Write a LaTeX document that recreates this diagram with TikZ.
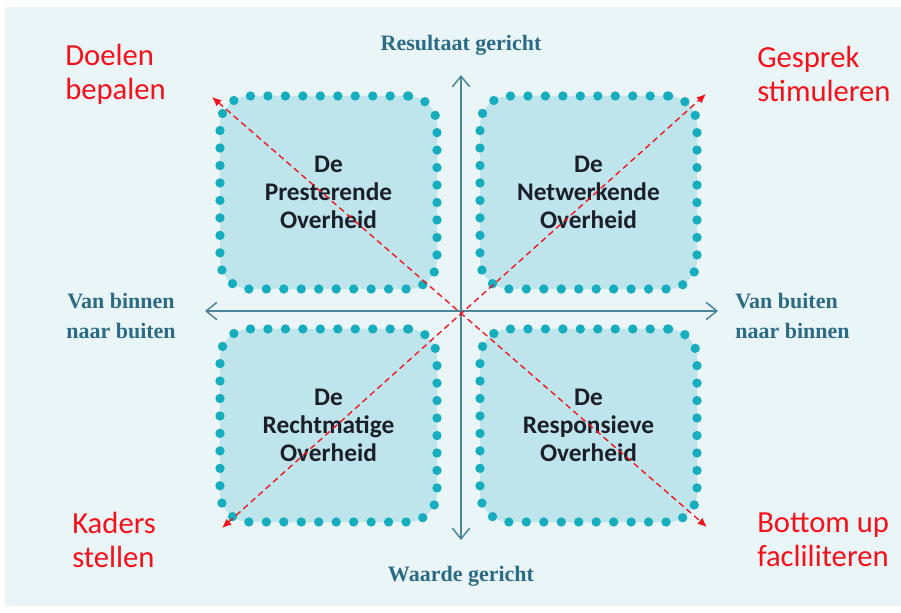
\documentclass[tikz,border=0pt]{standalone}
\usepackage{fontspec}
\setmainfont{Carlito}
\newfontfamily\axisfont{Liberation Serif}
\usetikzlibrary{arrows.meta}
\definecolor{achtergrond}{HTML}{EAF5F8}
\definecolor{vlak}{HTML}{BDE5EB}
\definecolor{stip}{HTML}{16ADBE}
\definecolor{aslijn}{HTML}{4A8599}
\definecolor{astekst}{HTML}{2B6B86}
\definecolor{rood}{HTML}{F5101A}
\definecolor{vaktekst}{HTML}{1C1F2A}
\begin{document}
\begin{tikzpicture}[x=0.75pt,y=-0.75pt,
  vak/.style={rectangle,rounded corners=22pt,minimum width=162.75pt,minimum height=144.75pt,
    fill=vlak,draw=stip,line width=7pt,line cap=round,dash pattern=on 0pt off 13.1pt,
    text=vaktekst,font=\bfseries\fontsize{19}{21}\selectfont,align=center},
  as/.style={draw=aslijn,line width=1.1pt,arrows={Straight Barb[length=8pt,width=13pt]-Straight Barb[length=8pt,width=13pt]}},
  diag/.style={draw=rood,line width=1pt,dash pattern=on 4.5pt off 3pt,arrows={Latex[length=7pt,width=6pt]-Latex[length=7pt,width=6pt]}},
  asnaam/.style={text=astekst,inner sep=0pt,font=\axisfont\bfseries\fontsize{16.5}{23}\selectfont},
  doel/.style={text=rood,inner sep=0pt,align=left,font=\fontsize{23}{25.5}\selectfont}]
\useasboundingbox (0,0) rectangle (901,613);
\fill[achtergrond] (5,7) rectangle (901,606);
\node[vak] (presterend) at (328.5,192.5) {De\\Presterende\\Overheid};
\node[vak] (netwerkend) at (588.5,192.5) {De\\Netwerkende\\Overheid};
\node[vak] (rechtmatig) at (328.5,425.5) {De\\Rechtmatige\\Overheid};
\node[vak] (responsief) at (588.5,425.5) {De\\Responsieve\\Overheid};
\coordinate (boven) at (461,75);
\coordinate (onder) at (461,540);
\coordinate (links) at (205,311);
\coordinate (rechts) at (718,311);
\draw[as] (onder) -- (boven);
\draw[as] (links) -- (rechts);
\coordinate (doelen) at (212,97);
\coordinate (bottomup) at (707,527);
\coordinate (gesprek) at (706,94);
\coordinate (kaders) at (222,528);
\draw[diag] (doelen) -- (bottomup);
\draw[diag] (kaders) -- (gesprek);
\node[asnaam,anchor=base] (resultaat) at (461,51) {Resultaat gericht};
\node[asnaam,anchor=base] (waarde) at (461,581) {Waarde gericht};
\node[asnaam,align=center] (binnenuit) at (121,316) {Van binnen\\naar buiten};
\node[asnaam,align=left,anchor=west] (buitenin) at (735,316) {Van buiten\\naar binnen};
\node[doel,anchor=west] (doelenlabel) at (65,74) {Doelen\\bepalen};
\node[doel,anchor=west] (gespreklabel) at (757,74) {Gesprek\\stimuleren};
\node[doel,anchor=west] (kaderslabel) at (72,540) {Kaders\\stellen};
\node[doel,anchor=west] (bottomuplabel) at (757,540) {Bottom up\\facliliteren};
\end{tikzpicture}
\end{document}
